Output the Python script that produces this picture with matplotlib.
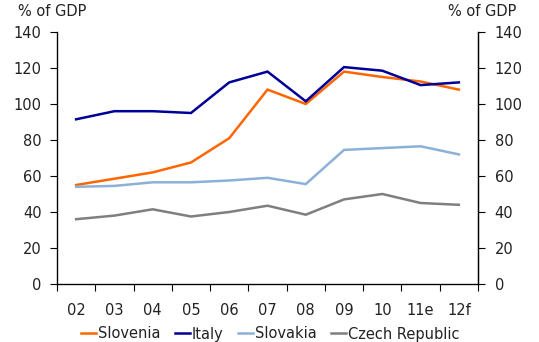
import matplotlib
matplotlib.use("Agg")
import matplotlib.pyplot as plt
import numpy as np

years = ["02", "03", "04", "05", "06", "07", "08", "09", "10", "11e", "12f"]
slovenia = [55, 58.5, 62, 67.5, 81, 108, 100, 118, 115, 112.5, 108]
italy = [91.5, 96, 96, 95, 112, 118, 101.5, 120.5, 118.5, 110.5, 112]
slovakia = [54, 54.5, 56.5, 56.5, 57.5, 59, 55.5, 74.5, 75.5, 76.5, 72]
czech = [36, 38, 41.5, 37.5, 40, 43.5, 38.5, 47, 50, 45, 44]
series_names = ["Slovenia", "Italy", "Slovakia", "Czech Republic"]
colors = ["#FF6600", "#000099", "#8DB0D8", "#7F7F7F"]
yticks = [0, 20, 40, 60, 80, 100, 120, 140]

plt.rcParams['font.family'] = ['DejaVu Sans']
fs = 10.5

fig = plt.figure(figsize=(5.39, 3.42), dpi=100)
ax = fig.add_axes([57/539, 1-284/342, (478-57)/539, (284-32)/342])
x = np.arange(len(years))
for vals, name, c in zip([slovenia, italy, slovakia, czech], series_names, colors):
    ax.plot(x, vals, color=c, lw=1.8, label=name, solid_joinstyle='miter')

ax.set_xlim(-0.5, len(years) - 0.5)
ax.set_ylim(0, 140)
ax.set_yticks(yticks)
ax.set_xticks(x)
ax.set_xticklabels(years, fontsize=fs, color="#222222")
ax.set_xticks(np.arange(-0.5, len(years)), minor=True)
ax.tick_params(axis='x', which='major', length=0, pad=14)
ax.tick_params(axis='x', which='minor', length=5, width=0.8)
ax.tick_params(axis='y', labelsize=fs, length=5, width=0.8, pad=6, labelcolor="#222222")
ax.spines['top'].set_visible(False)
for s in ['left', 'right', 'bottom']:
    ax.spines[s].set_linewidth(0.9)

ax2 = ax.twinx()
ax2.set_ylim(0, 140)
ax2.set_yticks(yticks)
ax2.tick_params(axis='y', labelsize=fs, length=5, width=0.8, pad=7, labelcolor="#222222")
ax2.spines['top'].set_visible(False)
ax2.spines['right'].set_linewidth(0.9)

fig.text(18/539, 1-12/342, "% of GDP", fontsize=fs, va='center', ha='left', color="#222222")
fig.text(516/539, 1-12/342, "% of GDP", fontsize=fs, va='center', ha='right', color="#222222")

leg = ax.legend(loc='center', bbox_to_anchor=(270/539, (1-334/342)), bbox_transform=fig.transFigure,
                ncol=4, frameon=False, fontsize=fs, handlelength=1.05, handletextpad=0.1,
                columnspacing=1.0, borderaxespad=0, borderpad=0)
for t in leg.get_texts():
    t.set_color("#222222")

fig.savefig("out.png", dpi=100)
